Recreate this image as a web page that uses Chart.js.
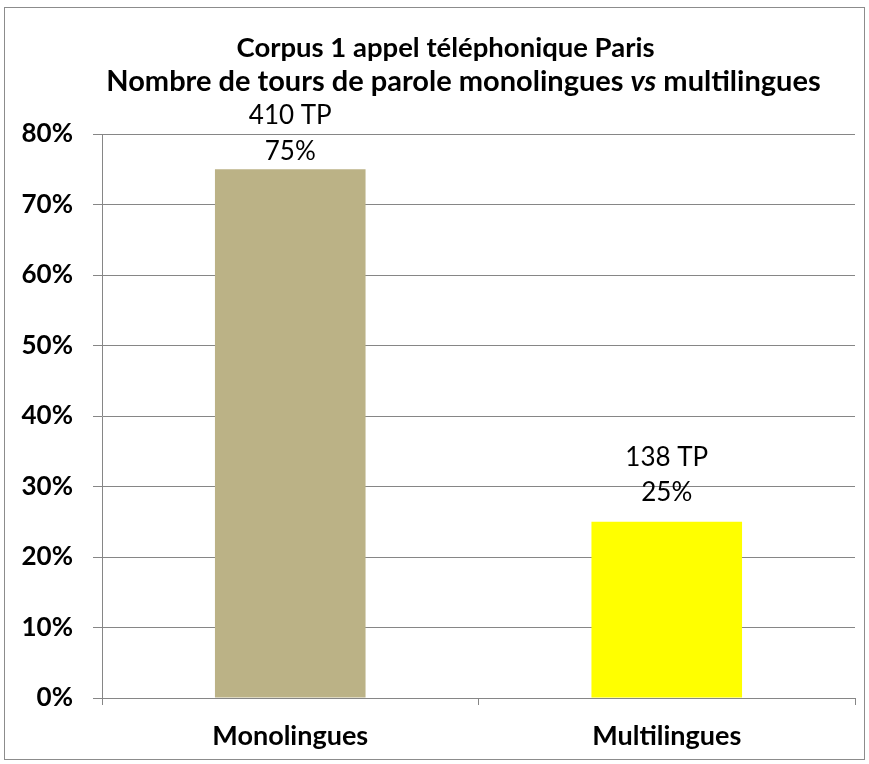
<!DOCTYPE html>
<html><head><meta charset="utf-8">
<script src="https://cdn.jsdelivr.net/npm/chart.js@4"></script>
<style>html,body{margin:0;padding:0;background:#fff}#wrap{position:absolute;left:0;top:0;width:869px;height:764px}</style>
</head><body><div id="wrap"><canvas id="c" width="869" height="764"></canvas></div>
<script>
const categories = ['Monolingues', 'Multilingues'];
const percentValues = [75, 25];
const turnCounts = [410, 138];
const yTicks = [0, 10, 20, 30, 40, 50, 60, 70, 80];
const barColors = ['#BBB286', '#FFFF00'];
const FONT = 'Lato, "Liberation Sans", sans-serif';

const framePlugin = {
  id: 'frame',
  beforeDraw(chart) {
    const ctx = chart.ctx;
    ctx.save();
    ctx.fillStyle = '#fff';
    ctx.fillRect(0, 0, chart.width, chart.height);
    ctx.strokeStyle = '#8c8c8c';
    ctx.lineWidth = 1;
    ctx.strokeRect(4.5, 7.5, 860, 752);
    ctx.restore();
  }
};

const titlePlugin = {
  id: 'mixedTitle',
  afterDraw(chart) {
    const ctx = chart.ctx;
    const mid = (chart.chartArea.left + chart.chartArea.right) / 2;
    ctx.save();
    ctx.fillStyle = '#000';
    ctx.textBaseline = 'middle';
    ctx.textAlign = 'center';
    ctx.font = 'bold 27.5px ' + FONT;
    ctx.fillText('Corpus 1 appel téléphonique Paris', mid - 33, 48);
    const f = 'bold 29px ' + FONT;
    const parts = [
      ['Nombre de tours de parole monolingues ', f],
      ['vs', 'italic ' + f],
      [' multilingues', f]
    ];
    let total = 0;
    parts.forEach(p => { ctx.font = p[1]; total += ctx.measureText(p[0]).width; });
    let x = mid - 15 - total / 2;
    ctx.textAlign = 'left';
    parts.forEach(p => { ctx.font = p[1]; ctx.fillText(p[0], x, 82); x += ctx.measureText(p[0]).width; });
    ctx.restore();
  }
};

const labelPlugin = {
  id: 'barLabels',
  afterDatasetsDraw(chart) {
    const ctx = chart.ctx;
    const meta = chart.getDatasetMeta(0);
    const gapPct = [18, 29];
    const gapTP = [54, 64];
    ctx.save();
    ctx.fillStyle = '#000';
    ctx.font = '26px ' + FONT;
    ctx.textAlign = 'center';
    ctx.textBaseline = 'middle';
    meta.data.forEach((bar, i) => {
      ctx.fillText(turnCounts[i] + ' TP', bar.x, bar.y - gapTP[i]);
      ctx.fillText(percentValues[i] + '%', bar.x, bar.y - gapPct[i]);
    });
    ctx.restore();
  }
};

new Chart(document.getElementById('c'), {
  type: 'bar',
  data: {
    labels: categories,
    datasets: [{
      data: percentValues,
      backgroundColor: barColors,
      borderWidth: 0,
      categoryPercentage: 0.8,
      barPercentage: 0.5
    }]
  },
  options: {
    responsive: false,
    animation: false,
    events: [],
    layout: { padding: { left: 0, top: 134, right: 14, bottom: 0 } },
    plugins: { legend: { display: false }, title: { display: false }, tooltip: { enabled: false } },
    scales: {
      x: {
        afterFit(scale) { scale.height = 66; },
        grid: { drawOnChartArea: false, drawTicks: true, tickLength: 7, color: '#868686', offset: true },
        border: { color: '#868686', width: 1 },
        ticks: { color: '#000', padding: 15, font: { family: FONT, size: 27, weight: 'bold' } }
      },
      y: {
        min: 0, max: 80,
        afterFit(scale) { scale.width = 102; },
        afterBuildTicks(scale) { scale.ticks = yTicks.map(v => ({ value: v })); },
        grid: { color: '#868686', tickLength: 9, drawTicks: true },
        border: { color: '#868686', width: 1 },
        ticks: { color: '#000', padding: 20, font: { family: FONT, size: 26, weight: 'bold' },
                 callback: v => v + '%' }
      }
    }
  },
  plugins: [framePlugin, titlePlugin, labelPlugin]
});
</script></body></html>
